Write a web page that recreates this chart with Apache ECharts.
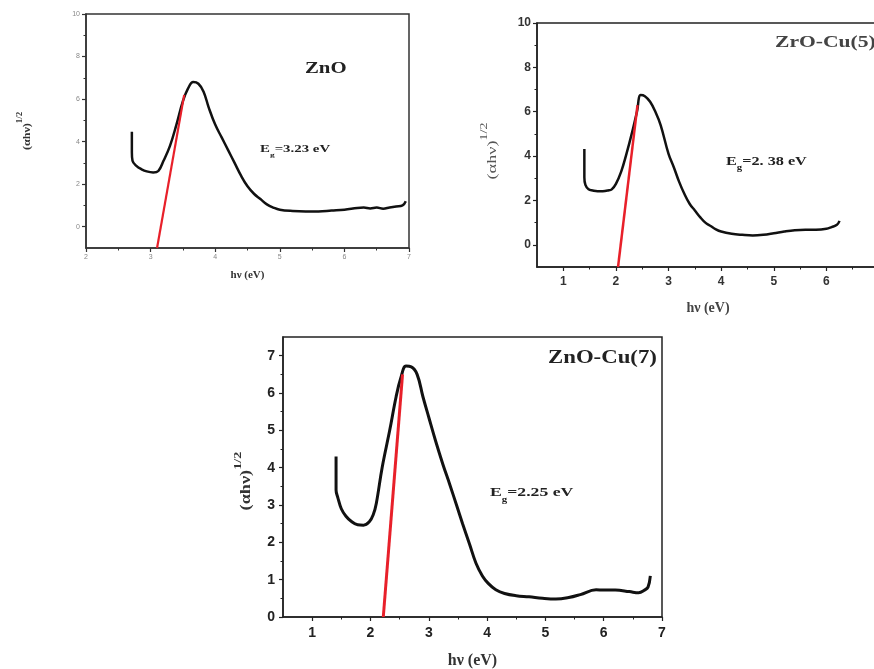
<!DOCTYPE html>
<html>
<head>
<meta charset="utf-8">
<script src="https://cdn.jsdelivr.net/npm/echarts@6/dist/echarts.min.js"></script>
<style>
  html, body { margin: 0; padding: 0; background: #fff; }
  #main { width: 874px; height: 669px; }
</style>
</head>
<body>
<div id="main"></div>
<script>
// ZnO panel (top left)
const znoX = [2.71, 2.71, 2.72, 2.78, 2.86, 2.94, 3.04, 3.12, 3.20, 3.30, 3.40, 3.50, 3.58, 3.66, 3.74, 3.82, 3.90, 4.00, 4.10, 4.20, 4.30, 4.40, 4.50, 4.60, 4.70, 4.80, 4.90, 5.00, 5.20, 5.40, 5.60, 5.80, 6.00, 6.20, 6.30, 6.40, 6.50, 6.60, 6.70, 6.80, 6.90, 6.95];
const znoY = [4.47, 3.5, 3.1, 2.86, 2.7, 2.6, 2.55, 2.62, 3.1, 3.8, 4.8, 5.9, 6.5, 6.8, 6.72, 6.35, 5.6, 4.8, 4.2, 3.6, 3.0, 2.4, 1.9, 1.55, 1.3, 1.05, 0.9, 0.8, 0.74, 0.72, 0.72, 0.76, 0.8, 0.88, 0.9, 0.86, 0.9, 0.85, 0.9, 0.95, 1.0, 1.2];
const znoFitX = [3.10, 3.52];
const znoFitY = [-1, 6.2];

// ZrO-Cu(5) panel (top right)
const cu5X = [1.40, 1.40, 1.42, 1.48, 1.56, 1.65, 1.75, 1.85, 1.92, 2.00, 2.10, 2.20, 2.30, 2.40, 2.47, 2.55, 2.65, 2.75, 2.85, 3.00, 3.10, 3.20, 3.30, 3.40, 3.50, 3.60, 3.70, 3.80, 3.90, 4.00, 4.20, 4.40, 4.60, 4.80, 5.00, 5.20, 5.40, 5.60, 5.80, 6.00, 6.10, 6.20, 6.25];
const cu5Y = [4.32, 3.05, 2.7, 2.5, 2.45, 2.42, 2.42, 2.45, 2.5, 2.75, 3.3, 4.1, 5.0, 6.0, 6.75, 6.7, 6.45, 6.0, 5.4, 4.1, 3.5, 2.85, 2.3, 1.85, 1.55, 1.25, 1.0, 0.85, 0.7, 0.6, 0.5, 0.45, 0.42, 0.45, 0.52, 0.6, 0.66, 0.68, 0.68, 0.72, 0.8, 0.9, 1.08];
const cu5FitX = [2.04, 2.41];
const cu5FitY = [-1, 6.3];

// ZnO-Cu(7) panel (bottom)
const cu7X = [1.41, 1.41, 1.44, 1.50, 1.58, 1.68, 1.78, 1.88, 1.98, 2.05, 2.10, 2.20, 2.33, 2.44, 2.52, 2.61, 2.70, 2.80, 2.90, 3.00, 3.12, 3.24, 3.36, 3.48, 3.58, 3.70, 3.81, 3.92, 4.02, 4.15, 4.30, 4.50, 4.72, 4.95, 5.18, 5.40, 5.60, 5.87, 6.00, 6.20, 6.44, 6.60, 6.70, 6.76, 6.80];
const cu7Y = [4.3, 3.4, 3.2, 2.9, 2.7, 2.55, 2.47, 2.46, 2.55, 2.75, 3.04, 4.0, 5.0, 5.9, 6.4, 6.72, 6.7, 6.5, 5.9, 5.35, 4.7, 4.1, 3.55, 2.98, 2.5, 1.95, 1.44, 1.1, 0.9, 0.73, 0.63, 0.57, 0.54, 0.5, 0.48, 0.52, 0.6, 0.73, 0.72, 0.72, 0.68, 0.65, 0.72, 0.8, 1.1];
const cu7FitX = [2.22, 2.55];
const cu7FitY = [0, 6.5];

// tick labels
const znoTicksX = [2, 3, 4, 5, 6, 7];
const znoMinorX = [2.5, 3.5, 4.5, 5.5, 6.5];
const znoTicksY = [0, 2, 4, 6, 8, 10];
const znoMinorY = [1, 3, 5, 7, 9];
const cu5TicksX = [1, 2, 3, 4, 5, 6];
const cu5MinorX = [1.5, 2.5, 3.5, 4.5, 5.5, 6.5];
const cu5TicksY = [0, 2, 4, 6, 8, 10];
const cu5MinorY = [1, 3, 5, 7, 9];
const cu7TicksX = [1, 2, 3, 4, 5, 6, 7];
const cu7MinorX = [1.5, 2.5, 3.5, 4.5, 5.5, 6.5];
const cu7TicksY = [0, 1, 2, 3, 4, 5, 6, 7];
const cu7MinorY = [0.5, 1.5, 2.5, 3.5, 4.5, 5.5, 6.5];

const zip = (xs, ys) => xs.map((x, i) => [x, ys[i]]);
const serif = '"Liberation Serif", "DejaVu Serif", serif';
const sans = '"Liberation Sans", Arial, sans-serif';

function mainAxis(dim, i, min, max, ticks, o) {
  return {
    type: 'value', gridIndex: i, min: min, max: max,
    position: dim === 'x' ? 'bottom' : 'left',
    name: o.name, nameLocation: 'middle', nameGap: o.nameGap,
    nameTextStyle: o.nameStyle,
    axisLine: { onZero: false, lineStyle: { color: o.lineColor, width: 1.5 } },
    axisTick: { customValues: ticks, length: 4, lineStyle: { color: o.lineColor, width: 1.2 } },
    axisLabel: Object.assign({ customValues: ticks, margin: o.margin || 6 }, o.label),
    splitLine: { show: false }
  };
}

function minorAxis(dim, i, min, max, ticks, color) {
  return {
    type: 'value', gridIndex: i, min: min, max: max,
    position: dim === 'x' ? 'bottom' : 'left',
    axisLine: { show: false, onZero: false },
    axisTick: { customValues: ticks, length: 2.5, lineStyle: { color: color, width: 1 } },
    axisLabel: { show: false },
    splitLine: { show: false }
  };
}

// rotated y titles with a raised 1/2
function yTitle(x, y, size, weight, color, stretch) {
  return {
    type: 'text', x: x, y: y, rotation: Math.PI / 2, scaleX: stretch,
    style: {
      text: '{b|(αhν)}{s|1/2}', align: 'center', verticalAlign: 'middle',
      rich: {
        b: { fontFamily: serif, fontWeight: weight, fontSize: size, fill: color, lineHeight: Math.round(size * 1.5), verticalAlign: 'bottom' },
        s: { fontFamily: serif, fontWeight: weight, fontSize: Math.round(size * 0.75), fill: color, lineHeight: 4, verticalAlign: 'top' }
      }
    }
  };
}

// E_g labels with a lowered g
function gapLabel(x, y, size, value, stretch) {
  return {
    type: 'text', x: x, y: y, scaleX: stretch,
    style: {
      text: '{b|E}{s|g}{b|=' + value + '}', align: 'left', verticalAlign: 'middle',
      rich: {
        b: { fontFamily: serif, fontWeight: 'bold', fontSize: size, fill: '#222', lineHeight: Math.round(size * 1.35), verticalAlign: 'top' },
        s: { fontFamily: serif, fontWeight: 'bold', fontSize: Math.round(size * 0.65), fill: '#222', lineHeight: 5, verticalAlign: 'bottom' }
      }
    }
  };
}

function panelTitle(x, y, size, text, color, stretch) {
  return {
    type: 'text', x: x, y: y, scaleX: stretch,
    style: { text: text, align: 'left', verticalAlign: 'middle', font: 'bold ' + size + 'px ' + serif, fill: color }
  };
}

const myChart = echarts.init(document.getElementById('main'));
myChart.setOption({
  animation: false,
  backgroundColor: '#fff',
  grid: [
    { left: 86, top: 14, width: 323, height: 234, show: true, borderColor: '#333', borderWidth: 1.5, outerBoundsMode: 'none' },
    { left: 537, top: 23, width: 342, height: 244, show: true, borderColor: '#222', borderWidth: 1.5, outerBoundsMode: 'none' },
    { left: 283, top: 337, width: 379, height: 280, show: true, borderColor: '#222', borderWidth: 1.5, outerBoundsMode: 'none' }
  ],
  xAxis: [
    mainAxis('x', 0, 2, 7, znoTicksX, {
      name: 'hν (eV)', nameGap: 22, lineColor: '#333',
      nameStyle: { fontFamily: serif, fontWeight: 'bold', fontSize: 11, color: '#333' },
      label: { fontSize: 7, color: '#888', fontFamily: sans }
    }),
    mainAxis('x', 1, 0.5, 7, cu5TicksX, {
      name: 'hν (eV)', nameGap: 34, lineColor: '#222', margin: 9,
      nameStyle: { fontFamily: serif, fontWeight: 'bold', fontSize: 14, color: '#444' },
      label: { fontSize: 12, fontWeight: 'bold', color: '#333', fontFamily: sans }
    }),
    mainAxis('x', 2, 0.5, 7, cu7TicksX, {
      name: 'hν (eV)', nameGap: 36, lineColor: '#222', margin: 9,
      nameStyle: { fontFamily: serif, fontWeight: 'bold', fontSize: 16, color: '#333' },
      label: { fontSize: 14, fontWeight: 'bold', color: '#222', fontFamily: sans }
    }),
    minorAxis('x', 0, 2, 7, znoMinorX, '#333'),
    minorAxis('x', 1, 0.5, 7, cu5MinorX, '#222'),
    minorAxis('x', 2, 0.5, 7, cu7MinorX, '#222')
  ],
  yAxis: [
    mainAxis('y', 0, -1, 10, znoTicksY, {
      lineColor: '#333',
      label: { fontSize: 7, color: '#888', fontFamily: sans }
    }),
    mainAxis('y', 1, -1, 10, cu5TicksY, {
      lineColor: '#222',
      label: { fontSize: 12, fontWeight: 'bold', color: '#333', fontFamily: sans }
    }),
    mainAxis('y', 2, 0, 7.5, cu7TicksY, {
      lineColor: '#222', margin: 8,
      label: { fontSize: 14, fontWeight: 'bold', color: '#222', fontFamily: sans }
    }),
    minorAxis('y', 0, -1, 10, znoMinorY, '#333'),
    minorAxis('y', 1, -1, 10, cu5MinorY, '#222'),
    minorAxis('y', 2, 0, 7.5, cu7MinorY, '#222')
  ],
  series: [
    { name: 'ZnO', type: 'line', xAxisIndex: 0, yAxisIndex: 0, data: zip(znoX, znoY), smooth: 0.4,
      showSymbol: false, lineStyle: { color: '#111', width: 2.5 } },
    { name: 'ZnO fit', type: 'line', xAxisIndex: 0, yAxisIndex: 0, data: zip(znoFitX, znoFitY),
      showSymbol: false, lineStyle: { color: '#e8202a', width: 2.2 } },
    { name: 'ZrO-Cu(5)', type: 'line', xAxisIndex: 1, yAxisIndex: 1, data: zip(cu5X, cu5Y), smooth: 0.4,
      showSymbol: false, lineStyle: { color: '#111', width: 2.5 } },
    { name: 'ZrO-Cu(5) fit', type: 'line', xAxisIndex: 1, yAxisIndex: 1, data: zip(cu5FitX, cu5FitY),
      showSymbol: false, lineStyle: { color: '#e8202a', width: 2.5 } },
    { name: 'ZnO-Cu(7)', type: 'line', xAxisIndex: 2, yAxisIndex: 2, data: zip(cu7X, cu7Y), smooth: 0.4,
      showSymbol: false, lineStyle: { color: '#111', width: 3 } },
    { name: 'ZnO-Cu(7) fit', type: 'line', xAxisIndex: 2, yAxisIndex: 2, data: zip(cu7FitX, cu7FitY),
      showSymbol: false, lineStyle: { color: '#e8202a', width: 3 } }
  ],
  graphic: [
    yTitle(24, 131, 11, 'bold', '#333', 1.1),
    yTitle(489, 151, 13, 'normal', '#555', 1.4),
    yTitle(243, 481, 14, 'bold', '#333', 1.3),
    panelTitle(305, 69, 16, 'ZnO', '#222', 1.3),
    gapLabel(260, 151, 11, '3.23 eV', 1.35),
    panelTitle(775, 43, 16, 'ZrO-Cu(5)', '#444', 1.35),
    gapLabel(726, 164, 12, '2. 38 eV', 1.35),
    panelTitle(548, 358, 19, 'ZnO-Cu(7)', '#222', 1.2),
    gapLabel(490, 495, 13, '2.25 eV', 1.36)
  ]
});
</script>
</body>
</html>
